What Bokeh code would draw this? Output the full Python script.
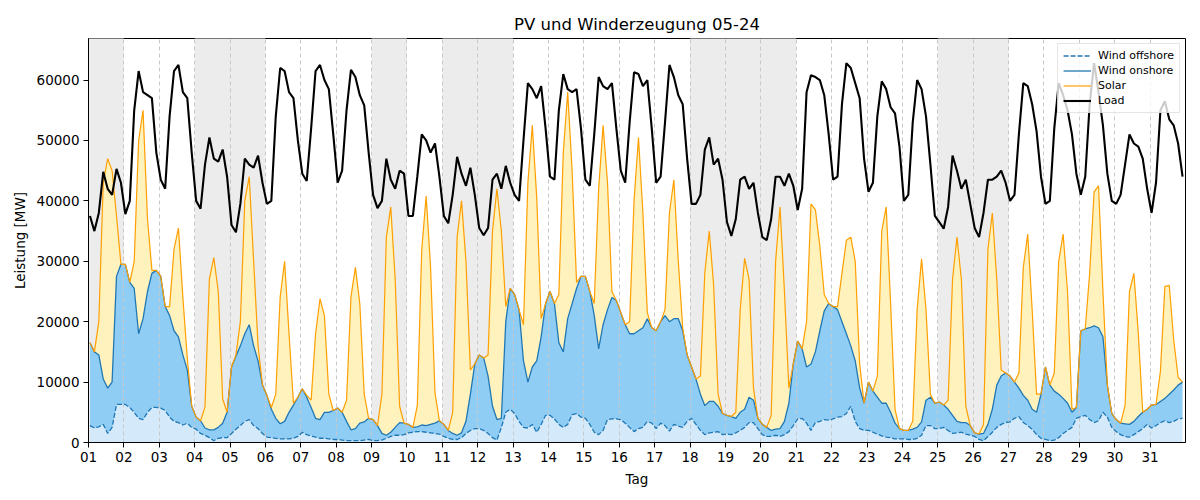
from bokeh.plotting import figure
from bokeh.models import Range1d, FixedTicker, NumeralTickFormatter, Legend, LegendItem
from bokeh.embed import file_html
from bokeh.resources import INLINE

# Sample hours within each day (3-hourly readings)
HOURS = [1, 4, 7, 10, 13, 16, 19, 22]
DAY_LABELS = [f"{d:02d}" for d in range(1, 32)]
# Weekends and public holidays in May 2024 (day of month)
FREE_DAYS = [1, 4, 5, 9, 11, 12, 18, 19, 20, 25, 26]
Y_TICKS = [0, 10000, 20000, 30000, 40000, 50000, 60000]

# Generation and load in MW, one row per day
wind_offshore = [
    2800, 2400, 2600, 3000, 1500, 2500, 6300, 6300,
    6300, 5800, 5000, 4000, 3800, 5000, 5800, 5800,
    5700, 5300, 4200, 3500, 3300, 2900, 3200, 2500,
    2200, 1500, 1200, 800, 300, 700, 800, 800,
    1500, 2200, 2800, 3500, 3800, 2800, 2300, 1500,
    900, 800, 700, 600, 600, 600, 700, 1000,
    1700, 1300, 1100, 900, 700, 700, 600, 500,
    500, 400, 300, 300, 300, 300, 400, 500,
    300, 300, 400, 700, 1000, 1200, 1200, 1300,
    1600, 1700, 1800, 1800, 1700, 1600, 1500, 1400,
    1000, 700, 500, 500, 800, 1500, 2000, 2300,
    2300, 2000, 1500, 800, 400, 2500, 5000, 5500,
    4800, 3500, 2500, 2400, 3000, 1700, 3000, 4500,
    4500, 3900, 3000, 2500, 3000, 4600, 4800, 4200,
    4000, 3000, 1700, 1300, 2000, 3800, 3900, 3900,
    3800, 3200, 2500, 1800, 2300, 2500, 3500, 3200,
    2300, 3200, 2800, 1900, 3000, 2700, 2500, 3500,
    4000, 3000, 2000, 1300, 1600, 1700, 1800, 1300,
    1400, 1300, 1600, 2000, 2500, 3300, 3300, 2300,
    1300, 1000, 1000, 1200, 1000, 1300, 1800, 2800,
    3900, 4000, 3200, 2000, 3300, 3500, 3800, 3700,
    3900, 4200, 4300, 4800, 6000, 3500, 2300, 2000,
    2000, 1700, 1400, 1100, 900, 800, 600, 600,
    600, 500, 500, 700, 1200, 2800, 2800, 2300,
    2300, 2500, 2000, 1500, 1600, 1700, 1400, 1200,
    1000, 500, 300, 1000, 1700, 2500, 3000, 3300,
    3400, 4000, 4300, 3300, 2800, 2200, 1300, 700,
    500, 300, 400, 800, 1500, 2000, 2500, 4000,
    4300, 4500, 3800, 3300, 3600, 5000, 4200, 2500,
    1800, 1300, 1000, 900, 1300, 1800, 2300, 3000,
    2400, 2800, 3300, 3600, 3300, 3500, 3900, 4000,
]

wind_onshore = [
    13700, 12600, 11900, 7500, 7500, 7500, 21200, 23200,
    23200, 20700, 20500, 14000, 16700, 20000, 22200, 22700,
    21800, 17200, 16800, 15000, 14200, 11600, 8800, 3500,
    2000, 2100, 1200, 1300, 1800, 1800, 2400, 4200,
    11000, 12100, 13200, 14500, 15700, 13200, 11200, 8000,
    6900, 4700, 3300, 2500, 2900, 4400, 5500, 6500,
    7200, 6200, 4700, 3100, 3100, 4300, 4400, 4800,
    5200, 4600, 3200, 1800, 2000, 2900, 3000, 3500,
    3500, 2500, 1100, 500, 700, 1300, 2100, 1900,
    1400, 800, 800, 1100, 1100, 1400, 1700, 2200,
    2000, 1300, 1000, 700, 800, 2000, 6000, 10700,
    12200, 12000, 9500, 5200, 3400, 1500, 15000, 20000,
    19700, 18500, 11000, 7600, 9500, 11800, 14500, 18500,
    20500, 19100, 13500, 12500, 17500, 18400, 20700, 23300,
    23500, 22000, 19300, 14200, 17500, 18200, 20100, 19600,
    17700, 16300, 15500, 16200, 16200, 16500, 17000, 15800,
    16200, 16800, 18200, 18100, 17500, 17800, 16000, 11000,
    8500, 7500, 6000, 4800, 5200, 5100, 4200, 3500,
    3100, 3000, 2400, 3000, 3000, 4200, 3700, 1700,
    1700, 1500, 1000, 1000, 1300, 2200, 4700, 10200,
    12900, 11500, 9300, 11000, 11700, 15000, 18000, 19300,
    18600, 17800, 15700, 13200, 10000, 10000, 6700, 4500,
    8000, 6800, 6100, 5400, 5600, 4200, 2600, 1700,
    1400, 1500, 1700, 1800, 2200, 4200, 4700, 4200,
    4400, 3700, 3500, 3000, 1900, 1600, 1900, 1600,
    600, 900, 1200, 2000, 3800, 7000, 8000, 8200,
    7600, 6000, 4700, 4500, 4200, 3300, 3700, 7300,
    12000, 9200, 8100, 7200, 5800, 4500, 2500, 1800,
    14200, 14300, 15200, 16000, 15400, 12500, 5300, 2300,
    2000, 1900, 2100, 2100, 2200, 2500, 2700, 2500,
    3800, 3500, 3500, 3700, 4700, 5200, 5600, 6000,
]

solar = [
    0, 0, 5500, 32500, 38000, 35000, 10000, 0,
    0, 0, 4500, 32000, 34500, 12000, 500, 0,
    0, 0, 1500, 13500, 18000, 9500, 2000, 0,
    0, 0, 3500, 25000, 28500, 22500, 4000, 0,
    0, 200, 4000, 22000, 24500, 14000, 2500, 0,
    0, 300, 4000, 21000, 26500, 13000, 300, 0,
    0, 300, 1200, 14000, 20000, 16000, 3000, 0,
    0, 0, 3500, 22000, 26700, 19800, 4600, 0,
    0, 0, 6500, 32800, 37300, 24500, 2700, 0,
    0, 0, 3500, 29000, 38000, 26000, 5000, 0,
    0, 0, 3500, 32800, 38400, 26500, 4000, 0,
    0, 0, 3500, 29000, 38200, 31000, 2500, 0,
    0, 0, 6000, 33000, 40000, 27000, 3000, 0,
    0, 0, 8000, 33000, 37500, 22000, 1000, 0,
    0, 0, 2000, 26500, 33000, 21000, 1000, 0,
    0, 0, 2000, 22000, 32000, 19000, 1000, 0,
    0, 0, 1000, 18000, 23000, 9500, 500, 0,
    0, 0, 3000, 22000, 28200, 19200, 2000, 0,
    0, 0, 1000, 17000, 25000, 19500, 2000, 0,
    0, 0, 2500, 27800, 36700, 21500, 2500, 0,
    0, 0, 7500, 26500, 23500, 14000, 2700, 0,
    0, 500, 8000, 15500, 18000, 16500, 4000, 0,
    0, 0, 3500, 28500, 32500, 18000, 2300, 0,
    0, 0, 1300, 19500, 27000, 15000, 500, 0,
    0, 0, 1500, 22500, 30500, 23700, 2700, 0,
    0, 0, 1500, 29000, 32500, 17500, 1000, 0,
    0, 0, 2500, 21200, 27500, 16500, 3000, 0,
    0, 0, 3000, 22000, 27200, 18500, 500, 0,
    0, 0, 9000, 22200, 23500, 7500, 0, 0,
    0, 0, 3000, 22000, 24500, 13700, 0, 0,
    0, 0, 5000, 18500, 18000, 8300, 1300, 0,
]

load = [
    37500, 35000, 38000, 44800, 42000, 41000, 45300, 43000,
    37800, 40000, 55000, 61500, 58000, 57500, 57000, 48000,
    43500, 42000, 54000, 61500, 62500, 58000, 57000, 48000,
    40000, 38700, 46000, 50500, 47000, 46500, 48500, 44000,
    36000, 34800, 39500, 47000, 46000, 45500, 47500, 43000,
    39500, 40000, 54000, 62000, 61500, 58000, 57000, 50000,
    44500, 43300, 52000, 61500, 62500, 60000, 58500, 51000,
    43000, 45000, 55000, 61700, 60500, 57500, 55800, 48000,
    41000, 38800, 40000, 47000, 43500, 42000, 45000, 44500,
    37500, 37500, 44000, 51000, 50000, 48000, 49500, 44000,
    37500, 36300, 41000, 47300, 44500, 42500, 45500, 41000,
    35500, 34300, 35500, 43500, 44500, 42000, 45800, 43000,
    41000, 40000, 50000, 59500, 58500, 57000, 59000, 52000,
    44000, 43500, 55000, 61000, 58500, 58000, 58500, 52000,
    43500, 42500, 51000, 60500, 59000, 58500, 59500, 52000,
    45000, 43000, 53000, 61300, 61000, 59000, 60000, 52000,
    43000, 44000, 53000, 62500, 60500, 57500, 56000, 47000,
    39500, 39500, 41000, 48500, 50500, 46000, 47000, 43500,
    36500, 34200, 37000, 43500, 44000, 42000, 43000, 38000,
    34000, 33500, 37000, 44000, 44000, 42500, 44500, 42500,
    38500, 42000, 58000, 60800, 60500, 60000, 57500, 51000,
    43500, 44000, 56000, 62800, 62000, 59500, 57000, 47000,
    41500, 43000, 54000, 59800, 58500, 55500, 54500, 49000,
    40000, 41000, 53000, 60000, 58500, 54000, 46000, 37500,
    36500, 35400, 39000, 47500, 45000, 42000, 43500, 39500,
    35500, 34000, 38000, 43500, 43500, 44000, 45000, 43000,
    40000, 41000, 51000, 59500, 59000, 56000, 51500, 44000,
    39500, 40000, 52000, 59500, 57500, 55000, 51000, 44500,
    41000, 44000, 56000, 62800, 58000, 52500, 44500, 40000,
    39500, 41000, 46000, 51000, 49500, 49000, 47000, 42000,
    38000, 43000, 55000, 56500, 53500, 52500, 49500, 44000,
]

FONT = "DejaVu Sans"

# time axis in days since 1 May 00:00
x = [d + h / 24 for d in range(len(DAY_LABELS)) for h in HOURS]

# stacked levels: offshore, + onshore, + solar
lvl_off = list(wind_offshore)
lvl_on = [a + b for a, b in zip(wind_offshore, wind_onshore)]
lvl_sol = [a + b for a, b in zip(lvl_on, solar)]

y_top = max(load) * 1.065

p = figure(
    width=1200, height=500,
    x_range=Range1d(0, len(DAY_LABELS)), y_range=Range1d(0, y_top),
    output_backend="svg", toolbar_location=None,
    min_border_left=88, min_border_right=15, min_border_top=38, min_border_bottom=58,
    title="PV und Winderzeugung 05-24",
)
p.background_fill_color = "white"
p.border_fill_color = "white"
p.outline_line_color = "black"
p.outline_line_width = 1
p.outline_line_alpha = 1

# shaded free days (drawn first, under everything)
p.quad(left=[d - 1 for d in FREE_DAYS], right=FREE_DAYS,
       bottom=-1e6, top=1e7, fill_color="#ececec", line_color=None, level="underlay")

# stacked areas
p.varea(x=x, y1=0, y2=lvl_off, fill_color="#d4eafb", level="underlay")
p.varea(x=x, y1=lvl_off, y2=lvl_on, fill_color="#90cdf5", level="underlay")
p.varea(x=x, y1=lvl_on, y2=lvl_sol, fill_color="#fff2bd", level="underlay")

# lines
r_off = p.line(x, lvl_off, line_color="#1f77b4", line_width=1.3, line_dash="5 2")
r_on = p.line(x, lvl_on, line_color="#1f77b4", line_width=1.3)
r_sol = p.line(x, lvl_sol, line_color="#ff9f00", line_width=1.2)
r_load = p.line(x, load, line_color="black", line_width=2.1)

# grid: dashed verticals at each day
p.ygrid.visible = False
p.xgrid.ticker = FixedTicker(ticks=list(range(len(DAY_LABELS) + 1)))
p.xgrid.grid_line_color = "#c8c8c8"
p.xgrid.grid_line_dash = "4 3"
p.xgrid.grid_line_width = 1

# axes
p.xaxis.ticker = FixedTicker(ticks=list(range(len(DAY_LABELS))))
p.xaxis.major_label_overrides = {i: lab for i, lab in enumerate(DAY_LABELS)}
p.yaxis.ticker = FixedTicker(ticks=Y_TICKS)
p.yaxis.formatter = NumeralTickFormatter(format="0")
p.xaxis.axis_label = "Tag"
p.yaxis.axis_label = "Leistung [MW]"
for ax in (p.xaxis, p.yaxis):
    ax.axis_line_color = "black"
    ax.major_tick_line_color = "black"
    ax.major_tick_out = 5
    ax.major_tick_in = 0
    ax.minor_tick_line_color = None
    ax.major_label_text_font = FONT
    ax.major_label_text_font_size = "13.5px"
    ax.major_label_text_color = "black"
    ax.axis_label_text_font = FONT
    ax.axis_label_text_font_size = "13.5px"
    ax.axis_label_text_font_style = "normal"
    ax.axis_label_text_color = "black"
    ax.major_label_standoff = 4
    ax.axis_label_standoff = 6

p.title.align = "center"
p.title.text_font = FONT
p.title.text_font_size = "16.5px"
p.title.text_font_style = "normal"
p.title.text_color = "black"

legend = Legend(items=[
    LegendItem(label="Wind offshore", renderers=[r_off]),
    LegendItem(label="Wind onshore", renderers=[r_on]),
    LegendItem(label="Solar", renderers=[r_sol]),
    LegendItem(label="Load", renderers=[r_load]),
])
legend.location = "top_right"
legend.label_text_font = FONT
legend.label_text_font_size = "11px"
legend.label_text_color = "black"
legend.glyph_width = 28
legend.glyph_height = 13
legend.label_height = 13
legend.label_standoff = 7
legend.spacing = 2
legend.padding = 5
legend.margin = 5
legend.border_line_color = "#cccccc"
legend.border_line_width = 1
legend.background_fill_alpha = 0.8
p.add_layout(legend)

open("out.html", "w").write(file_html(p, INLINE))
